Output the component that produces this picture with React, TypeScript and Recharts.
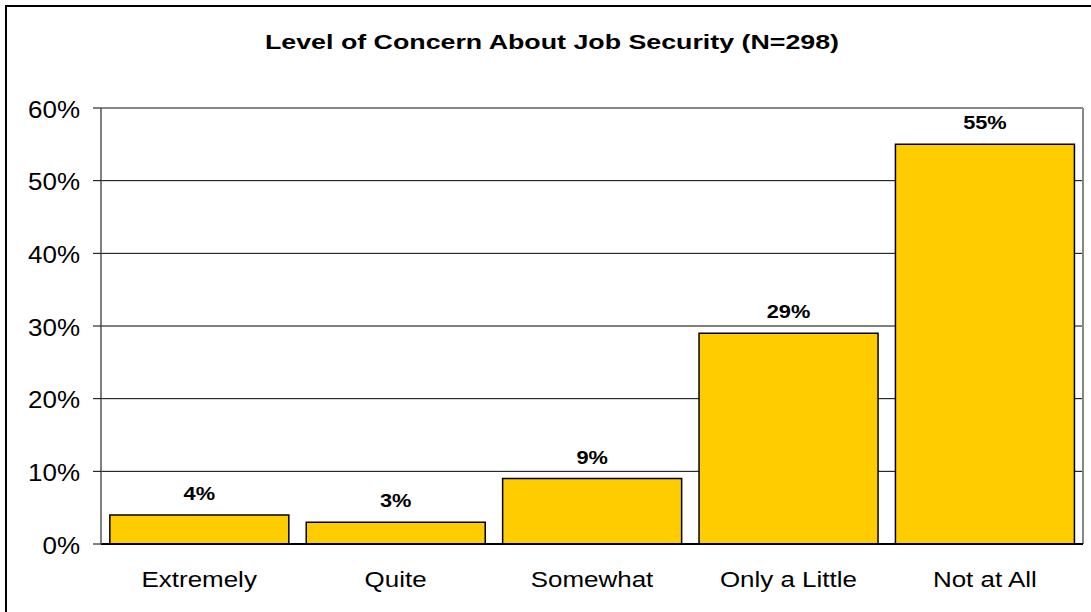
import React from 'react';
import {
  BarChart,
  Bar,
  XAxis,
  YAxis,
  CartesianGrid,
  ReferenceLine,
  LabelList,
} from 'recharts';

// Chart data
const categories = ['Extremely', 'Quite', 'Somewhat', 'Only a Little', 'Not at All'];
const percentages = [4, 3, 9, 29, 55];
const yTicks = [0, 10, 20, 30, 40, 50, 60];
const boundaryTicks = [0, 1, 2, 3, 4, 5];
const title = 'Level of Concern About Job Security (N=298)';

const data = categories.map((category, i) => ({
  category,
  value: percentages[i],
  pos: i + 0.5,
}));

const FONT = '"Liberation Sans", Arial, sans-serif';

/**
 * Text stretched horizontally, the reference picture is wider than tall.
 */
function StretchText({ x, y, sx, size, bold, anchor, children }: any) {
  return (
    <text
      transform={`translate(${x},${y}) scale(${sx},1)`}
      textAnchor={anchor}
      fontSize={size}
      fontWeight={bold ? 'bold' : 'normal'}
      fontFamily={FONT}
      fill="#000"
    >
      {children}
    </text>
  );
}

function YTick({ x, y, payload }: any) {
  return (
    <StretchText x={x} y={y + 9.5} sx={1.13} size={23} anchor="end">
      {`${payload.value}%`}
    </StretchText>
  );
}

function XTick({ x, y, payload }: any) {
  return (
    <StretchText x={x} y={y + 35} sx={1.19} size={21.8} anchor="middle">
      {payload.value}
    </StretchText>
  );
}

function BarValueLabel({ x, y, width, value }: any) {
  return (
    <StretchText x={x + width / 2} y={y - 15} sx={1.23} size={17.7} bold anchor="middle">
      {`${value}%`}
    </StretchText>
  );
}

export default function App(): React.ReactElement {
  return (
    <div style={{ position: 'absolute', left: 0, top: 0, width: 1091, height: 612, background: '#fff' }}>
      <svg
        width={1091}
        height={612}
        style={{ position: 'absolute', left: 0, top: 0 }}
      >
        <path d="M6,612 L6,6 L1091,6" fill="none" stroke="#000" strokeWidth={2} />
        <StretchText x={552} y={49.3} sx={1.34} size={20} bold anchor="middle">
          {title}
        </StretchText>
      </svg>
      <div style={{ position: 'absolute', left: 0, top: 0 }}>
        <BarChart
          width={1091}
          height={612}
          data={data}
          margin={{ top: 108, right: 8, left: 0, bottom: 0 }}
          barCategoryGap="4.5%"
        >
          <XAxis
            xAxisId="grid"
            dataKey="pos"
            type="number"
            domain={[0, 5]}
            ticks={boundaryTicks}
            allowDataOverflow
            height={0}
            axisLine={false}
            tickSize={7}
            tickLine={{ stroke: '#000', strokeWidth: 1 }}
            tickFormatter={() => ''}
          />
          <XAxis
            xAxisId="cat"
            dataKey="category"
            height={68}
            tickLine={false}
            axisLine={{ stroke: '#000', strokeWidth: 2 }}
            tick={<XTick />}
            interval={0}
          />
          <YAxis
            width={101}
            domain={[0, 60]}
            ticks={yTicks}
            tickSize={8}
            tickMargin={13}
            tickLine={{ stroke: '#000', strokeWidth: 1 }}
            axisLine={{ stroke: '#555', strokeWidth: 1.5 }}
            tick={<YTick />}
          />
          <CartesianGrid vertical={false} stroke="#000" strokeWidth={1} xAxisId="cat" />
          <ReferenceLine y={60} stroke="#888" strokeWidth={2} xAxisId="cat" />
          <ReferenceLine x={5} xAxisId="grid" stroke="#888" strokeWidth={2} />
          <Bar
            xAxisId="cat"
            dataKey="value"
            fill="#FFCC00"
            stroke="#000"
            strokeWidth={1.5}
            isAnimationActive={false}
          >
            <LabelList dataKey="value" content={<BarValueLabel />} />
          </Bar>
        </BarChart>
      </div>
    </div>
  );
}
